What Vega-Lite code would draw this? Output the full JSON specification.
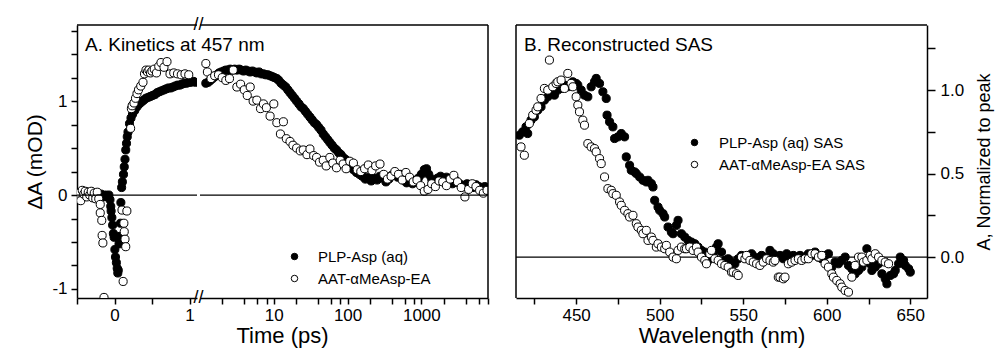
{
  "$schema": "https://vega.github.io/schema/vega-lite/v6.json",
  "padding": {"left": 24, "top": 16, "right": 5, "bottom": 5},
  "background": "white",
  "config": {
    "view": {"stroke": null},
    "font": "Liberation Sans",
    "axis": {"grid": false, "domainColor": "black", "domainWidth": 1.5, "tickColor": "black", "tickWidth": 1.5, "tickSize": 6, "labelColor": "black", "titleColor": "black", "labelFont": "Liberation Sans", "titleFont": "Liberation Sans", "labelFontSize": 17, "titleFontSize": 21, "titleFontWeight": "normal", "labelFlush": false, "labelOverlap": false},
    "legend": {"labelFont": "Liberation Sans", "labelColor": "black", "labelFontSize": 15}
  },
  "datasets": {
    "kin": [
      {"t":-0.48,"v":0.00,"s":"PLP-Asp (aq)"},{"t":-0.45,"v":0.03,"s":"PLP-Asp (aq)"},{"t":-0.42,"v":0.02,"s":"PLP-Asp (aq)"},{"t":-0.39,"v":-0.01,"s":"PLP-Asp (aq)"},{"t":-0.36,"v":0.03,"s":"PLP-Asp (aq)"},{"t":-0.33,"v":0.00,"s":"PLP-Asp (aq)"},{"t":-0.30,"v":-0.02,"s":"PLP-Asp (aq)"},{"t":-0.27,"v":0.02,"s":"PLP-Asp (aq)"},{"t":-0.24,"v":0.00,"s":"PLP-Asp (aq)"},{"t":-0.21,"v":-0.03,"s":"PLP-Asp (aq)"},{"t":-0.18,"v":0.01,"s":"PLP-Asp (aq)"},{"t":-0.15,"v":-0.02,"s":"PLP-Asp (aq)"},{"t":-0.12,"v":0.00,"s":"PLP-Asp (aq)"},{"t":-0.09,"v":-0.02,"s":"PLP-Asp (aq)"},{"t":-0.075,"v":0.00,"s":"PLP-Asp (aq)"},{"t":-0.06,"v":-0.05,"s":"PLP-Asp (aq)"},{"t":-0.05,"v":-0.12,"s":"PLP-Asp (aq)"},{"t":-0.045,"v":-0.17,"s":"PLP-Asp (aq)"},{"t":-0.035,"v":-0.24,"s":"PLP-Asp (aq)"},{"t":-0.025,"v":-0.32,"s":"PLP-Asp (aq)"},{"t":-0.015,"v":-0.41,"s":"PLP-Asp (aq)"},{"t":-0.005,"v":-0.45,"s":"PLP-Asp (aq)"},{"t":0.005,"v":-0.58,"s":"PLP-Asp (aq)"},{"t":0.013,"v":-0.66,"s":"PLP-Asp (aq)"},{"t":0.025,"v":-0.72,"s":"PLP-Asp (aq)"},{"t":0.036,"v":-0.78,"s":"PLP-Asp (aq)"},{"t":0.044,"v":-0.83,"s":"PLP-Asp (aq)"},{"t":0.05,"v":-0.80,"s":"PLP-Asp (aq)"},{"t":0.06,"v":-0.52,"s":"PLP-Asp (aq)"},{"t":0.07,"v":-0.44,"s":"PLP-Asp (aq)"},{"t":0.08,"v":-0.30,"s":"PLP-Asp (aq)"},{"t":0.085,"v":-0.08,"s":"PLP-Asp (aq)"},{"t":0.095,"v":0.08,"s":"PLP-Asp (aq)"},{"t":0.105,"v":0.14,"s":"PLP-Asp (aq)"},{"t":0.12,"v":0.22,"s":"PLP-Asp (aq)"},{"t":0.13,"v":0.30,"s":"PLP-Asp (aq)"},{"t":0.14,"v":0.38,"s":"PLP-Asp (aq)"},{"t":0.15,"v":0.48,"s":"PLP-Asp (aq)"},{"t":0.16,"v":0.55,"s":"PLP-Asp (aq)"},{"t":0.17,"v":0.62,"s":"PLP-Asp (aq)"},{"t":0.18,"v":0.67,"s":"PLP-Asp (aq)"},{"t":0.20,"v":0.76,"s":"PLP-Asp (aq)"},{"t":0.22,"v":0.82,"s":"PLP-Asp (aq)"},{"t":0.24,"v":0.86,"s":"PLP-Asp (aq)"},{"t":0.27,"v":0.90,"s":"PLP-Asp (aq)"},{"t":0.30,"v":0.94,"s":"PLP-Asp (aq)"},{"t":0.33,"v":0.97,"s":"PLP-Asp (aq)"},{"t":0.36,"v":0.99,"s":"PLP-Asp (aq)"},{"t":0.39,"v":1.01,"s":"PLP-Asp (aq)"},{"t":0.42,"v":1.03,"s":"PLP-Asp (aq)"},{"t":0.45,"v":1.04,"s":"PLP-Asp (aq)"},{"t":0.48,"v":1.05,"s":"PLP-Asp (aq)"},{"t":0.51,"v":1.06,"s":"PLP-Asp (aq)"},{"t":0.54,"v":1.07,"s":"PLP-Asp (aq)"},{"t":0.57,"v":1.09,"s":"PLP-Asp (aq)"},{"t":0.60,"v":1.10,"s":"PLP-Asp (aq)"},{"t":0.63,"v":1.11,"s":"PLP-Asp (aq)"},{"t":0.66,"v":1.12,"s":"PLP-Asp (aq)"},{"t":0.69,"v":1.13,"s":"PLP-Asp (aq)"},{"t":0.72,"v":1.14,"s":"PLP-Asp (aq)"},{"t":0.75,"v":1.14,"s":"PLP-Asp (aq)"},{"t":0.78,"v":1.15,"s":"PLP-Asp (aq)"},{"t":0.81,"v":1.16,"s":"PLP-Asp (aq)"},{"t":0.84,"v":1.17,"s":"PLP-Asp (aq)"},{"t":0.87,"v":1.17,"s":"PLP-Asp (aq)"},{"t":0.90,"v":1.18,"s":"PLP-Asp (aq)"},{"t":0.93,"v":1.19,"s":"PLP-Asp (aq)"},{"t":0.96,"v":1.19,"s":"PLP-Asp (aq)"},{"t":0.99,"v":1.20,"s":"PLP-Asp (aq)"},{"t":1.02,"v":1.20,"s":"PLP-Asp (aq)"},{"t":1.05,"v":1.21,"s":"PLP-Asp (aq)"},{"t":1.08,"v":1.20,"s":"PLP-Asp (aq)"},
      {"t":1.20,"v":1.19,"s":"PLP-Asp (aq)"},{"t":1.29,"v":1.20,"s":"PLP-Asp (aq)"},{"t":1.38,"v":1.22,"s":"PLP-Asp (aq)"},{"t":1.48,"v":1.24,"s":"PLP-Asp (aq)"},{"t":1.58,"v":1.26,"s":"PLP-Asp (aq)"},{"t":1.70,"v":1.28,"s":"PLP-Asp (aq)"},{"t":1.82,"v":1.30,"s":"PLP-Asp (aq)"},{"t":1.95,"v":1.31,"s":"PLP-Asp (aq)"},{"t":2.09,"v":1.32,"s":"PLP-Asp (aq)"},{"t":2.24,"v":1.33,"s":"PLP-Asp (aq)"},{"t":2.40,"v":1.33,"s":"PLP-Asp (aq)"},{"t":2.57,"v":1.34,"s":"PLP-Asp (aq)"},{"t":2.75,"v":1.33,"s":"PLP-Asp (aq)"},{"t":2.95,"v":1.34,"s":"PLP-Asp (aq)"},{"t":3.16,"v":1.33,"s":"PLP-Asp (aq)"},{"t":3.39,"v":1.34,"s":"PLP-Asp (aq)"},{"t":3.63,"v":1.33,"s":"PLP-Asp (aq)"},{"t":3.89,"v":1.32,"s":"PLP-Asp (aq)"},{"t":4.17,"v":1.33,"s":"PLP-Asp (aq)"},{"t":4.47,"v":1.32,"s":"PLP-Asp (aq)"},{"t":4.79,"v":1.31,"s":"PLP-Asp (aq)"},{"t":5.13,"v":1.32,"s":"PLP-Asp (aq)"},{"t":5.50,"v":1.31,"s":"PLP-Asp (aq)"},{"t":5.89,"v":1.30,"s":"PLP-Asp (aq)"},{"t":6.31,"v":1.31,"s":"PLP-Asp (aq)"},{"t":6.76,"v":1.29,"s":"PLP-Asp (aq)"},{"t":7.24,"v":1.29,"s":"PLP-Asp (aq)"},{"t":7.76,"v":1.28,"s":"PLP-Asp (aq)"},{"t":8.32,"v":1.28,"s":"PLP-Asp (aq)"},{"t":8.91,"v":1.27,"s":"PLP-Asp (aq)"},{"t":9.55,"v":1.26,"s":"PLP-Asp (aq)"},{"t":10.2,"v":1.25,"s":"PLP-Asp (aq)"},{"t":11.0,"v":1.24,"s":"PLP-Asp (aq)"},{"t":11.7,"v":1.22,"s":"PLP-Asp (aq)"},{"t":12.6,"v":1.19,"s":"PLP-Asp (aq)"},{"t":13.5,"v":1.17,"s":"PLP-Asp (aq)"},{"t":14.5,"v":1.15,"s":"PLP-Asp (aq)"},{"t":15.5,"v":1.12,"s":"PLP-Asp (aq)"},{"t":16.6,"v":1.09,"s":"PLP-Asp (aq)"},{"t":17.8,"v":1.06,"s":"PLP-Asp (aq)"},{"t":19.1,"v":1.03,"s":"PLP-Asp (aq)"},{"t":20.4,"v":1.00,"s":"PLP-Asp (aq)"},{"t":21.9,"v":0.97,"s":"PLP-Asp (aq)"},{"t":23.4,"v":0.94,"s":"PLP-Asp (aq)"},{"t":25.1,"v":0.92,"s":"PLP-Asp (aq)"},{"t":26.9,"v":0.89,"s":"PLP-Asp (aq)"},{"t":28.8,"v":0.86,"s":"PLP-Asp (aq)"},{"t":30.9,"v":0.83,"s":"PLP-Asp (aq)"},{"t":33.1,"v":0.80,"s":"PLP-Asp (aq)"},{"t":35.5,"v":0.77,"s":"PLP-Asp (aq)"},{"t":38.0,"v":0.75,"s":"PLP-Asp (aq)"},{"t":40.7,"v":0.72,"s":"PLP-Asp (aq)"},{"t":43.7,"v":0.69,"s":"PLP-Asp (aq)"},{"t":46.8,"v":0.65,"s":"PLP-Asp (aq)"},{"t":50.1,"v":0.62,"s":"PLP-Asp (aq)"},{"t":53.7,"v":0.59,"s":"PLP-Asp (aq)"},{"t":57.5,"v":0.56,"s":"PLP-Asp (aq)"},{"t":61.7,"v":0.53,"s":"PLP-Asp (aq)"},{"t":66.1,"v":0.50,"s":"PLP-Asp (aq)"},{"t":70.8,"v":0.48,"s":"PLP-Asp (aq)"},{"t":75.9,"v":0.45,"s":"PLP-Asp (aq)"},{"t":81.3,"v":0.43,"s":"PLP-Asp (aq)"},{"t":87.1,"v":0.40,"s":"PLP-Asp (aq)"},{"t":93.3,"v":0.38,"s":"PLP-Asp (aq)"},{"t":100,"v":0.36,"s":"PLP-Asp (aq)"},{"t":110,"v":0.31,"s":"PLP-Asp (aq)"},{"t":120,"v":0.27,"s":"PLP-Asp (aq)"},{"t":132,"v":0.24,"s":"PLP-Asp (aq)"},{"t":145,"v":0.22,"s":"PLP-Asp (aq)"},{"t":158,"v":0.20,"s":"PLP-Asp (aq)"},{"t":174,"v":0.17,"s":"PLP-Asp (aq)"},{"t":191,"v":0.19,"s":"PLP-Asp (aq)"},{"t":209,"v":0.15,"s":"PLP-Asp (aq)"},{"t":229,"v":0.18,"s":"PLP-Asp (aq)"},{"t":251,"v":0.16,"s":"PLP-Asp (aq)"},{"t":275,"v":0.20,"s":"PLP-Asp (aq)"},{"t":302,"v":0.18,"s":"PLP-Asp (aq)"},{"t":331,"v":0.14,"s":"PLP-Asp (aq)"},{"t":363,"v":0.17,"s":"PLP-Asp (aq)"},{"t":398,"v":0.21,"s":"PLP-Asp (aq)"},{"t":437,"v":0.23,"s":"PLP-Asp (aq)"},{"t":479,"v":0.19,"s":"PLP-Asp (aq)"},{"t":525,"v":0.22,"s":"PLP-Asp (aq)"},{"t":575,"v":0.16,"s":"PLP-Asp (aq)"},{"t":631,"v":0.13,"s":"PLP-Asp (aq)"},{"t":692,"v":0.15,"s":"PLP-Asp (aq)"},{"t":759,"v":0.12,"s":"PLP-Asp (aq)"},{"t":832,"v":0.14,"s":"PLP-Asp (aq)"},{"t":912,"v":0.18,"s":"PLP-Asp (aq)"},{"t":1000,"v":0.22,"s":"PLP-Asp (aq)"},{"t":1096,"v":0.27,"s":"PLP-Asp (aq)"},{"t":1175,"v":0.28,"s":"PLP-Asp (aq)"},{"t":1259,"v":0.22,"s":"PLP-Asp (aq)"},{"t":1380,"v":0.17,"s":"PLP-Asp (aq)"},{"t":1514,"v":0.15,"s":"PLP-Asp (aq)"},{"t":1660,"v":0.18,"s":"PLP-Asp (aq)"},{"t":1820,"v":0.20,"s":"PLP-Asp (aq)"},{"t":1995,"v":0.17,"s":"PLP-Asp (aq)"},{"t":2188,"v":0.19,"s":"PLP-Asp (aq)"},{"t":2399,"v":0.15,"s":"PLP-Asp (aq)"},{"t":2630,"v":0.12,"s":"PLP-Asp (aq)"},{"t":2884,"v":0.16,"s":"PLP-Asp (aq)"},{"t":3162,"v":0.13,"s":"PLP-Asp (aq)"},{"t":3467,"v":0.11,"s":"PLP-Asp (aq)"},{"t":3802,"v":0.09,"s":"PLP-Asp (aq)"},{"t":4169,"v":0.12,"s":"PLP-Asp (aq)"},{"t":4571,"v":0.10,"s":"PLP-Asp (aq)"},{"t":5012,"v":0.08,"s":"PLP-Asp (aq)"},{"t":5495,"v":0.11,"s":"PLP-Asp (aq)"},{"t":6026,"v":0.09,"s":"PLP-Asp (aq)"},{"t":6607,"v":0.07,"s":"PLP-Asp (aq)"},{"t":7244,"v":0.09,"s":"PLP-Asp (aq)"},
      {"t":-0.49,"v":-0.03,"s":"AAT-αMeAsp-EA"},{"t":-0.47,"v":0.02,"s":"AAT-αMeAsp-EA"},{"t":-0.45,"v":-0.06,"s":"AAT-αMeAsp-EA"},{"t":-0.43,"v":0.05,"s":"AAT-αMeAsp-EA"},{"t":-0.41,"v":0.01,"s":"AAT-αMeAsp-EA"},{"t":-0.39,"v":0.04,"s":"AAT-αMeAsp-EA"},{"t":-0.37,"v":-0.02,"s":"AAT-αMeAsp-EA"},{"t":-0.35,"v":0.03,"s":"AAT-αMeAsp-EA"},{"t":-0.33,"v":0.00,"s":"AAT-αMeAsp-EA"},{"t":-0.31,"v":0.04,"s":"AAT-αMeAsp-EA"},{"t":-0.29,"v":-0.03,"s":"AAT-αMeAsp-EA"},{"t":-0.27,"v":0.02,"s":"AAT-αMeAsp-EA"},{"t":-0.25,"v":-0.04,"s":"AAT-αMeAsp-EA"},{"t":-0.23,"v":0.03,"s":"AAT-αMeAsp-EA"},{"t":-0.21,"v":-0.04,"s":"AAT-αMeAsp-EA"},{"t":-0.19,"v":-0.10,"s":"AAT-αMeAsp-EA"},{"t":-0.19,"v":-0.19,"s":"AAT-αMeAsp-EA"},{"t":-0.17,"v":-0.27,"s":"AAT-αMeAsp-EA"},{"t":-0.165,"v":-0.43,"s":"AAT-αMeAsp-EA"},{"t":-0.155,"v":-0.51,"s":"AAT-αMeAsp-EA"},{"t":-0.14,"v":-1.09,"s":"AAT-αMeAsp-EA"},{"t":0.10,"v":-0.16,"s":"AAT-αMeAsp-EA"},{"t":0.115,"v":-0.92,"s":"AAT-αMeAsp-EA"},{"t":0.125,"v":-0.30,"s":"AAT-αMeAsp-EA"},{"t":0.13,"v":-0.39,"s":"AAT-αMeAsp-EA"},{"t":0.14,"v":-0.47,"s":"AAT-αMeAsp-EA"},{"t":0.15,"v":-0.55,"s":"AAT-αMeAsp-EA"},{"t":0.165,"v":-0.17,"s":"AAT-αMeAsp-EA"},{"t":0.215,"v":0.71,"s":"AAT-αMeAsp-EA"},{"t":0.225,"v":0.92,"s":"AAT-αMeAsp-EA"},{"t":0.235,"v":0.95,"s":"AAT-αMeAsp-EA"},{"t":0.26,"v":0.98,"s":"AAT-αMeAsp-EA"},{"t":0.28,"v":1.03,"s":"AAT-αMeAsp-EA"},{"t":0.30,"v":1.08,"s":"AAT-αMeAsp-EA"},{"t":0.32,"v":1.12,"s":"AAT-αMeAsp-EA"},{"t":0.35,"v":1.16,"s":"AAT-αMeAsp-EA"},{"t":0.38,"v":1.20,"s":"AAT-αMeAsp-EA"},{"t":0.40,"v":1.29,"s":"AAT-αMeAsp-EA"},{"t":0.42,"v":1.33,"s":"AAT-αMeAsp-EA"},{"t":0.44,"v":1.31,"s":"AAT-αMeAsp-EA"},{"t":0.46,"v":1.33,"s":"AAT-αMeAsp-EA"},{"t":0.48,"v":1.30,"s":"AAT-αMeAsp-EA"},{"t":0.50,"v":1.32,"s":"AAT-αMeAsp-EA"},{"t":0.53,"v":1.34,"s":"AAT-αMeAsp-EA"},{"t":0.56,"v":1.30,"s":"AAT-αMeAsp-EA"},{"t":0.59,"v":1.37,"s":"AAT-αMeAsp-EA"},{"t":0.62,"v":1.41,"s":"AAT-αMeAsp-EA"},{"t":0.66,"v":1.36,"s":"AAT-αMeAsp-EA"},{"t":0.70,"v":1.42,"s":"AAT-αMeAsp-EA"},{"t":0.74,"v":1.29,"s":"AAT-αMeAsp-EA"},{"t":0.79,"v":1.30,"s":"AAT-αMeAsp-EA"},{"t":0.84,"v":1.29,"s":"AAT-αMeAsp-EA"},{"t":0.89,"v":1.28,"s":"AAT-αMeAsp-EA"},{"t":0.94,"v":1.29,"s":"AAT-αMeAsp-EA"},{"t":0.99,"v":1.28,"s":"AAT-αMeAsp-EA"},
      {"t":1.20,"v":1.40,"s":"AAT-αMeAsp-EA"},{"t":1.26,"v":1.31,"s":"AAT-αMeAsp-EA"},{"t":1.41,"v":1.24,"s":"AAT-αMeAsp-EA"},{"t":1.58,"v":1.27,"s":"AAT-αMeAsp-EA"},{"t":1.78,"v":1.28,"s":"AAT-αMeAsp-EA"},{"t":2.0,"v":1.25,"s":"AAT-αMeAsp-EA"},{"t":2.24,"v":1.22,"s":"AAT-αMeAsp-EA"},{"t":2.51,"v":1.24,"s":"AAT-αMeAsp-EA"},{"t":2.82,"v":1.33,"s":"AAT-αMeAsp-EA"},{"t":3.16,"v":1.15,"s":"AAT-αMeAsp-EA"},{"t":3.55,"v":1.18,"s":"AAT-αMeAsp-EA"},{"t":3.98,"v":1.12,"s":"AAT-αMeAsp-EA"},{"t":4.37,"v":1.06,"s":"AAT-αMeAsp-EA"},{"t":4.79,"v":1.15,"s":"AAT-αMeAsp-EA"},{"t":5.25,"v":1.00,"s":"AAT-αMeAsp-EA"},{"t":5.89,"v":1.01,"s":"AAT-αMeAsp-EA"},{"t":6.61,"v":0.92,"s":"AAT-αMeAsp-EA"},{"t":7.24,"v":0.97,"s":"AAT-αMeAsp-EA"},{"t":7.94,"v":0.93,"s":"AAT-αMeAsp-EA"},{"t":8.91,"v":0.84,"s":"AAT-αMeAsp-EA"},{"t":10,"v":0.97,"s":"AAT-αMeAsp-EA"},{"t":11.0,"v":0.77,"s":"AAT-αMeAsp-EA"},{"t":12.3,"v":0.65,"s":"AAT-αMeAsp-EA"},{"t":13.5,"v":0.78,"s":"AAT-αMeAsp-EA"},{"t":14.8,"v":0.60,"s":"AAT-αMeAsp-EA"},{"t":16.6,"v":0.57,"s":"AAT-αMeAsp-EA"},{"t":18.2,"v":0.53,"s":"AAT-αMeAsp-EA"},{"t":20.4,"v":0.50,"s":"AAT-αMeAsp-EA"},{"t":22.9,"v":0.47,"s":"AAT-αMeAsp-EA"},{"t":25.1,"v":0.48,"s":"AAT-αMeAsp-EA"},{"t":28.2,"v":0.43,"s":"AAT-αMeAsp-EA"},{"t":30.9,"v":0.49,"s":"AAT-αMeAsp-EA"},{"t":34.7,"v":0.42,"s":"AAT-αMeAsp-EA"},{"t":38.0,"v":0.40,"s":"AAT-αMeAsp-EA"},{"t":41.7,"v":0.35,"s":"AAT-αMeAsp-EA"},{"t":46.8,"v":0.37,"s":"AAT-αMeAsp-EA"},{"t":51.3,"v":0.31,"s":"AAT-αMeAsp-EA"},{"t":57.5,"v":0.40,"s":"AAT-αMeAsp-EA"},{"t":63.1,"v":0.34,"s":"AAT-αMeAsp-EA"},{"t":70.8,"v":0.29,"s":"AAT-αMeAsp-EA"},{"t":79.4,"v":0.37,"s":"AAT-αMeAsp-EA"},{"t":87.1,"v":0.33,"s":"AAT-αMeAsp-EA"},{"t":95.5,"v":0.28,"s":"AAT-αMeAsp-EA"},{"t":107,"v":0.36,"s":"AAT-αMeAsp-EA"},{"t":120,"v":0.34,"s":"AAT-αMeAsp-EA"},{"t":135,"v":0.27,"s":"AAT-αMeAsp-EA"},{"t":151,"v":0.25,"s":"AAT-αMeAsp-EA"},{"t":170,"v":0.28,"s":"AAT-αMeAsp-EA"},{"t":191,"v":0.32,"s":"AAT-αMeAsp-EA"},{"t":214,"v":0.26,"s":"AAT-αMeAsp-EA"},{"t":240,"v":0.31,"s":"AAT-αMeAsp-EA"},{"t":275,"v":0.33,"s":"AAT-αMeAsp-EA"},{"t":309,"v":0.22,"s":"AAT-αMeAsp-EA"},{"t":347,"v":0.17,"s":"AAT-αMeAsp-EA"},{"t":389,"v":0.20,"s":"AAT-αMeAsp-EA"},{"t":437,"v":0.25,"s":"AAT-αMeAsp-EA"},{"t":490,"v":0.22,"s":"AAT-αMeAsp-EA"},{"t":550,"v":0.16,"s":"AAT-αMeAsp-EA"},{"t":617,"v":0.24,"s":"AAT-αMeAsp-EA"},{"t":692,"v":0.19,"s":"AAT-αMeAsp-EA"},{"t":776,"v":0.14,"s":"AAT-αMeAsp-EA"},{"t":871,"v":0.16,"s":"AAT-αMeAsp-EA"},{"t":977,"v":0.10,"s":"AAT-αMeAsp-EA"},{"t":1096,"v":0.04,"s":"AAT-αMeAsp-EA"},{"t":1230,"v":0.06,"s":"AAT-αMeAsp-EA"},{"t":1380,"v":0.12,"s":"AAT-αMeAsp-EA"},{"t":1549,"v":0.09,"s":"AAT-αMeAsp-EA"},{"t":1738,"v":0.15,"s":"AAT-αMeAsp-EA"},{"t":1950,"v":0.14,"s":"AAT-αMeAsp-EA"},{"t":2188,"v":0.10,"s":"AAT-αMeAsp-EA"},{"t":2455,"v":0.17,"s":"AAT-αMeAsp-EA"},{"t":2754,"v":0.21,"s":"AAT-αMeAsp-EA"},{"t":3090,"v":0.14,"s":"AAT-αMeAsp-EA"},{"t":3467,"v":0.08,"s":"AAT-αMeAsp-EA"},{"t":3890,"v":-0.02,"s":"AAT-αMeAsp-EA"},{"t":4365,"v":0.06,"s":"AAT-αMeAsp-EA"},{"t":4898,"v":0.12,"s":"AAT-αMeAsp-EA"},{"t":5495,"v":0.09,"s":"AAT-αMeAsp-EA"},{"t":6166,"v":0.05,"s":"AAT-αMeAsp-EA"},{"t":6918,"v":0.02,"s":"AAT-αMeAsp-EA"},{"t":7762,"v":0.05,"s":"AAT-αMeAsp-EA"}
    ],
    "sas": [
      {"w":416,"a":0.73,"s":"PLP-Asp (aq) SAS"},{"w":418,"a":0.75,"s":"PLP-Asp (aq) SAS"},{"w":420,"a":0.78,"s":"PLP-Asp (aq) SAS"},{"w":421,"a":0.74,"s":"PLP-Asp (aq) SAS"},{"w":423,"a":0.82,"s":"PLP-Asp (aq) SAS"},{"w":425,"a":0.84,"s":"PLP-Asp (aq) SAS"},{"w":427,"a":0.88,"s":"PLP-Asp (aq) SAS"},{"w":429,"a":0.90,"s":"PLP-Asp (aq) SAS"},{"w":431,"a":0.94,"s":"PLP-Asp (aq) SAS"},{"w":433,"a":0.96,"s":"PLP-Asp (aq) SAS"},{"w":435,"a":0.98,"s":"PLP-Asp (aq) SAS"},{"w":437,"a":0.97,"s":"PLP-Asp (aq) SAS"},{"w":439,"a":1.00,"s":"PLP-Asp (aq) SAS"},{"w":441,"a":1.01,"s":"PLP-Asp (aq) SAS"},{"w":443,"a":1.03,"s":"PLP-Asp (aq) SAS"},{"w":445,"a":1.02,"s":"PLP-Asp (aq) SAS"},{"w":448,"a":1.05,"s":"PLP-Asp (aq) SAS"},{"w":450,"a":1.04,"s":"PLP-Asp (aq) SAS"},{"w":451,"a":1.03,"s":"PLP-Asp (aq) SAS"},{"w":453,"a":1.00,"s":"PLP-Asp (aq) SAS"},{"w":455,"a":0.97,"s":"PLP-Asp (aq) SAS"},{"w":457,"a":0.96,"s":"PLP-Asp (aq) SAS"},{"w":459,"a":1.02,"s":"PLP-Asp (aq) SAS"},{"w":461,"a":1.05,"s":"PLP-Asp (aq) SAS"},{"w":462,"a":1.07,"s":"PLP-Asp (aq) SAS"},{"w":464,"a":1.04,"s":"PLP-Asp (aq) SAS"},{"w":466,"a":0.99,"s":"PLP-Asp (aq) SAS"},{"w":468,"a":0.95,"s":"PLP-Asp (aq) SAS"},{"w":468.5,"a":0.85,"s":"PLP-Asp (aq) SAS"},{"w":470,"a":0.81,"s":"PLP-Asp (aq) SAS"},{"w":472,"a":0.78,"s":"PLP-Asp (aq) SAS"},{"w":473,"a":0.71,"s":"PLP-Asp (aq) SAS"},{"w":475,"a":0.72,"s":"PLP-Asp (aq) SAS"},{"w":477,"a":0.74,"s":"PLP-Asp (aq) SAS"},{"w":479,"a":0.72,"s":"PLP-Asp (aq) SAS"},{"w":480,"a":0.60,"s":"PLP-Asp (aq) SAS"},{"w":482,"a":0.55,"s":"PLP-Asp (aq) SAS"},{"w":483,"a":0.52,"s":"PLP-Asp (aq) SAS"},{"w":485,"a":0.51,"s":"PLP-Asp (aq) SAS"},{"w":486,"a":0.50,"s":"PLP-Asp (aq) SAS"},{"w":488,"a":0.48,"s":"PLP-Asp (aq) SAS"},{"w":490,"a":0.46,"s":"PLP-Asp (aq) SAS"},{"w":492,"a":0.45,"s":"PLP-Asp (aq) SAS"},{"w":493,"a":0.46,"s":"PLP-Asp (aq) SAS"},{"w":495,"a":0.44,"s":"PLP-Asp (aq) SAS"},{"w":496,"a":0.42,"s":"PLP-Asp (aq) SAS"},{"w":497,"a":0.34,"s":"PLP-Asp (aq) SAS"},{"w":499,"a":0.30,"s":"PLP-Asp (aq) SAS"},{"w":500,"a":0.28,"s":"PLP-Asp (aq) SAS"},{"w":502,"a":0.26,"s":"PLP-Asp (aq) SAS"},{"w":503,"a":0.24,"s":"PLP-Asp (aq) SAS"},{"w":505,"a":0.18,"s":"PLP-Asp (aq) SAS"},{"w":507,"a":0.15,"s":"PLP-Asp (aq) SAS"},{"w":508,"a":0.14,"s":"PLP-Asp (aq) SAS"},{"w":510,"a":0.19,"s":"PLP-Asp (aq) SAS"},{"w":511,"a":0.22,"s":"PLP-Asp (aq) SAS"},{"w":513,"a":0.14,"s":"PLP-Asp (aq) SAS"},{"w":515,"a":0.12,"s":"PLP-Asp (aq) SAS"},{"w":517,"a":0.10,"s":"PLP-Asp (aq) SAS"},{"w":519,"a":0.09,"s":"PLP-Asp (aq) SAS"},{"w":521,"a":0.08,"s":"PLP-Asp (aq) SAS"},{"w":523,"a":0.06,"s":"PLP-Asp (aq) SAS"},{"w":525,"a":0.04,"s":"PLP-Asp (aq) SAS"},{"w":527,"a":0.03,"s":"PLP-Asp (aq) SAS"},{"w":529,"a":-0.02,"s":"PLP-Asp (aq) SAS"},{"w":531,"a":0.01,"s":"PLP-Asp (aq) SAS"},{"w":532,"a":0.02,"s":"PLP-Asp (aq) SAS"},{"w":534,"a":0.06,"s":"PLP-Asp (aq) SAS"},{"w":535,"a":0.08,"s":"PLP-Asp (aq) SAS"},{"w":537,"a":0.03,"s":"PLP-Asp (aq) SAS"},{"w":539,"a":-0.02,"s":"PLP-Asp (aq) SAS"},{"w":541,"a":-0.01,"s":"PLP-Asp (aq) SAS"},{"w":543,"a":-0.03,"s":"PLP-Asp (aq) SAS"},{"w":545,"a":-0.04,"s":"PLP-Asp (aq) SAS"},{"w":547,"a":-0.01,"s":"PLP-Asp (aq) SAS"},{"w":549,"a":0.01,"s":"PLP-Asp (aq) SAS"},{"w":551,"a":0.00,"s":"PLP-Asp (aq) SAS"},{"w":553,"a":0.01,"s":"PLP-Asp (aq) SAS"},{"w":555,"a":0.02,"s":"PLP-Asp (aq) SAS"},{"w":557,"a":0.00,"s":"PLP-Asp (aq) SAS"},{"w":559,"a":-0.01,"s":"PLP-Asp (aq) SAS"},{"w":561,"a":0.01,"s":"PLP-Asp (aq) SAS"},{"w":563,"a":0.00,"s":"PLP-Asp (aq) SAS"},{"w":566,"a":0.04,"s":"PLP-Asp (aq) SAS"},{"w":568,"a":0.02,"s":"PLP-Asp (aq) SAS"},{"w":570,"a":0.00,"s":"PLP-Asp (aq) SAS"},{"w":572,"a":0.01,"s":"PLP-Asp (aq) SAS"},{"w":574,"a":-0.01,"s":"PLP-Asp (aq) SAS"},{"w":576,"a":0.02,"s":"PLP-Asp (aq) SAS"},{"w":578,"a":0.00,"s":"PLP-Asp (aq) SAS"},{"w":580,"a":0.01,"s":"PLP-Asp (aq) SAS"},{"w":582,"a":-0.01,"s":"PLP-Asp (aq) SAS"},{"w":584,"a":0.01,"s":"PLP-Asp (aq) SAS"},{"w":586,"a":0.00,"s":"PLP-Asp (aq) SAS"},{"w":589,"a":0.02,"s":"PLP-Asp (aq) SAS"},{"w":591,"a":0.01,"s":"PLP-Asp (aq) SAS"},{"w":593,"a":0.03,"s":"PLP-Asp (aq) SAS"},{"w":595,"a":0.00,"s":"PLP-Asp (aq) SAS"},{"w":597,"a":-0.01,"s":"PLP-Asp (aq) SAS"},{"w":599,"a":0.01,"s":"PLP-Asp (aq) SAS"},{"w":601,"a":0.02,"s":"PLP-Asp (aq) SAS"},{"w":603,"a":-0.06,"s":"PLP-Asp (aq) SAS"},{"w":605,"a":-0.03,"s":"PLP-Asp (aq) SAS"},{"w":607,"a":-0.04,"s":"PLP-Asp (aq) SAS"},{"w":609,"a":-0.02,"s":"PLP-Asp (aq) SAS"},{"w":611,"a":0.00,"s":"PLP-Asp (aq) SAS"},{"w":613,"a":-0.05,"s":"PLP-Asp (aq) SAS"},{"w":615,"a":-0.07,"s":"PLP-Asp (aq) SAS"},{"w":617,"a":-0.10,"s":"PLP-Asp (aq) SAS"},{"w":619,"a":-0.08,"s":"PLP-Asp (aq) SAS"},{"w":621,"a":-0.06,"s":"PLP-Asp (aq) SAS"},{"w":623,"a":-0.03,"s":"PLP-Asp (aq) SAS"},{"w":624,"a":0.05,"s":"PLP-Asp (aq) SAS"},{"w":626,"a":-0.04,"s":"PLP-Asp (aq) SAS"},{"w":627,"a":-0.08,"s":"PLP-Asp (aq) SAS"},{"w":629,"a":-0.06,"s":"PLP-Asp (aq) SAS"},{"w":631,"a":-0.04,"s":"PLP-Asp (aq) SAS"},{"w":633,"a":-0.10,"s":"PLP-Asp (aq) SAS"},{"w":635,"a":-0.13,"s":"PLP-Asp (aq) SAS"},{"w":636,"a":-0.16,"s":"PLP-Asp (aq) SAS"},{"w":638,"a":-0.11,"s":"PLP-Asp (aq) SAS"},{"w":640,"a":-0.10,"s":"PLP-Asp (aq) SAS"},{"w":641,"a":-0.08,"s":"PLP-Asp (aq) SAS"},{"w":643,"a":-0.04,"s":"PLP-Asp (aq) SAS"},{"w":644,"a":0.00,"s":"PLP-Asp (aq) SAS"},{"w":646,"a":-0.02,"s":"PLP-Asp (aq) SAS"},{"w":647,"a":-0.05,"s":"PLP-Asp (aq) SAS"},{"w":649,"a":-0.07,"s":"PLP-Asp (aq) SAS"},{"w":650,"a":-0.09,"s":"PLP-Asp (aq) SAS"},
      {"w":417,"a":0.66,"s":"AAT-αMeAsp-EA SAS"},{"w":419,"a":0.61,"s":"AAT-αMeAsp-EA SAS"},{"w":422,"a":0.80,"s":"AAT-αMeAsp-EA SAS"},{"w":424,"a":0.85,"s":"AAT-αMeAsp-EA SAS"},{"w":426,"a":0.88,"s":"AAT-αMeAsp-EA SAS"},{"w":427,"a":0.90,"s":"AAT-αMeAsp-EA SAS"},{"w":429,"a":0.95,"s":"AAT-αMeAsp-EA SAS"},{"w":431,"a":1.01,"s":"AAT-αMeAsp-EA SAS"},{"w":433,"a":1.00,"s":"AAT-αMeAsp-EA SAS"},{"w":434,"a":1.18,"s":"AAT-αMeAsp-EA SAS"},{"w":436,"a":1.02,"s":"AAT-αMeAsp-EA SAS"},{"w":438,"a":1.04,"s":"AAT-αMeAsp-EA SAS"},{"w":439,"a":1.05,"s":"AAT-αMeAsp-EA SAS"},{"w":441,"a":1.06,"s":"AAT-αMeAsp-EA SAS"},{"w":443,"a":1.01,"s":"AAT-αMeAsp-EA SAS"},{"w":445,"a":1.10,"s":"AAT-αMeAsp-EA SAS"},{"w":447,"a":1.04,"s":"AAT-αMeAsp-EA SAS"},{"w":448,"a":1.02,"s":"AAT-αMeAsp-EA SAS"},{"w":450,"a":0.96,"s":"AAT-αMeAsp-EA SAS"},{"w":451,"a":0.91,"s":"AAT-αMeAsp-EA SAS"},{"w":452,"a":0.87,"s":"AAT-αMeAsp-EA SAS"},{"w":454,"a":0.82,"s":"AAT-αMeAsp-EA SAS"},{"w":455,"a":0.79,"s":"AAT-αMeAsp-EA SAS"},{"w":457,"a":0.68,"s":"AAT-αMeAsp-EA SAS"},{"w":459,"a":0.66,"s":"AAT-αMeAsp-EA SAS"},{"w":461,"a":0.65,"s":"AAT-αMeAsp-EA SAS"},{"w":462,"a":0.63,"s":"AAT-αMeAsp-EA SAS"},{"w":464,"a":0.59,"s":"AAT-αMeAsp-EA SAS"},{"w":465,"a":0.56,"s":"AAT-αMeAsp-EA SAS"},{"w":467,"a":0.48,"s":"AAT-αMeAsp-EA SAS"},{"w":469,"a":0.41,"s":"AAT-αMeAsp-EA SAS"},{"w":471,"a":0.40,"s":"AAT-αMeAsp-EA SAS"},{"w":472,"a":0.38,"s":"AAT-αMeAsp-EA SAS"},{"w":474,"a":0.37,"s":"AAT-αMeAsp-EA SAS"},{"w":476,"a":0.33,"s":"AAT-αMeAsp-EA SAS"},{"w":477,"a":0.31,"s":"AAT-αMeAsp-EA SAS"},{"w":479,"a":0.28,"s":"AAT-αMeAsp-EA SAS"},{"w":481,"a":0.26,"s":"AAT-αMeAsp-EA SAS"},{"w":482,"a":0.24,"s":"AAT-αMeAsp-EA SAS"},{"w":484,"a":0.25,"s":"AAT-αMeAsp-EA SAS"},{"w":486,"a":0.20,"s":"AAT-αMeAsp-EA SAS"},{"w":487,"a":0.18,"s":"AAT-αMeAsp-EA SAS"},{"w":489,"a":0.16,"s":"AAT-αMeAsp-EA SAS"},{"w":490,"a":0.14,"s":"AAT-αMeAsp-EA SAS"},{"w":492,"a":0.16,"s":"AAT-αMeAsp-EA SAS"},{"w":493,"a":0.10,"s":"AAT-αMeAsp-EA SAS"},{"w":495,"a":0.12,"s":"AAT-αMeAsp-EA SAS"},{"w":496,"a":0.10,"s":"AAT-αMeAsp-EA SAS"},{"w":498,"a":0.06,"s":"AAT-αMeAsp-EA SAS"},{"w":499,"a":0.08,"s":"AAT-αMeAsp-EA SAS"},{"w":501,"a":0.06,"s":"AAT-αMeAsp-EA SAS"},{"w":503,"a":0.05,"s":"AAT-αMeAsp-EA SAS"},{"w":504,"a":0.07,"s":"AAT-αMeAsp-EA SAS"},{"w":506,"a":0.03,"s":"AAT-αMeAsp-EA SAS"},{"w":508,"a":0.00,"s":"AAT-αMeAsp-EA SAS"},{"w":510,"a":-0.01,"s":"AAT-αMeAsp-EA SAS"},{"w":511,"a":0.04,"s":"AAT-αMeAsp-EA SAS"},{"w":513,"a":0.06,"s":"AAT-αMeAsp-EA SAS"},{"w":515,"a":0.05,"s":"AAT-αMeAsp-EA SAS"},{"w":516,"a":0.05,"s":"AAT-αMeAsp-EA SAS"},{"w":518,"a":0.06,"s":"AAT-αMeAsp-EA SAS"},{"w":520,"a":0.04,"s":"AAT-αMeAsp-EA SAS"},{"w":522,"a":0.06,"s":"AAT-αMeAsp-EA SAS"},{"w":523,"a":0.03,"s":"AAT-αMeAsp-EA SAS"},{"w":525,"a":0.00,"s":"AAT-αMeAsp-EA SAS"},{"w":527,"a":-0.02,"s":"AAT-αMeAsp-EA SAS"},{"w":528,"a":-0.04,"s":"AAT-αMeAsp-EA SAS"},{"w":530,"a":0.02,"s":"AAT-αMeAsp-EA SAS"},{"w":531,"a":0.04,"s":"AAT-αMeAsp-EA SAS"},{"w":533,"a":-0.01,"s":"AAT-αMeAsp-EA SAS"},{"w":535,"a":-0.02,"s":"AAT-αMeAsp-EA SAS"},{"w":537,"a":-0.04,"s":"AAT-αMeAsp-EA SAS"},{"w":539,"a":-0.05,"s":"AAT-αMeAsp-EA SAS"},{"w":541,"a":-0.06,"s":"AAT-αMeAsp-EA SAS"},{"w":543,"a":-0.09,"s":"AAT-αMeAsp-EA SAS"},{"w":544,"a":-0.09,"s":"AAT-αMeAsp-EA SAS"},{"w":546,"a":-0.10,"s":"AAT-αMeAsp-EA SAS"},{"w":547,"a":-0.11,"s":"AAT-αMeAsp-EA SAS"},{"w":549,"a":0.00,"s":"AAT-αMeAsp-EA SAS"},{"w":551,"a":-0.01,"s":"AAT-αMeAsp-EA SAS"},{"w":552,"a":0.01,"s":"AAT-αMeAsp-EA SAS"},{"w":554,"a":-0.02,"s":"AAT-αMeAsp-EA SAS"},{"w":556,"a":-0.03,"s":"AAT-αMeAsp-EA SAS"},{"w":558,"a":-0.04,"s":"AAT-αMeAsp-EA SAS"},{"w":560,"a":-0.05,"s":"AAT-αMeAsp-EA SAS"},{"w":562,"a":-0.03,"s":"AAT-αMeAsp-EA SAS"},{"w":564,"a":-0.01,"s":"AAT-αMeAsp-EA SAS"},{"w":566,"a":-0.02,"s":"AAT-αMeAsp-EA SAS"},{"w":568,"a":-0.03,"s":"AAT-αMeAsp-EA SAS"},{"w":569,"a":-0.02,"s":"AAT-αMeAsp-EA SAS"},{"w":571,"a":-0.12,"s":"AAT-αMeAsp-EA SAS"},{"w":572,"a":-0.12,"s":"AAT-αMeAsp-EA SAS"},{"w":574,"a":-0.13,"s":"AAT-αMeAsp-EA SAS"},{"w":575,"a":-0.12,"s":"AAT-αMeAsp-EA SAS"},{"w":577,"a":-0.04,"s":"AAT-αMeAsp-EA SAS"},{"w":579,"a":-0.03,"s":"AAT-αMeAsp-EA SAS"},{"w":581,"a":-0.02,"s":"AAT-αMeAsp-EA SAS"},{"w":583,"a":-0.01,"s":"AAT-αMeAsp-EA SAS"},{"w":585,"a":-0.02,"s":"AAT-αMeAsp-EA SAS"},{"w":587,"a":-0.01,"s":"AAT-αMeAsp-EA SAS"},{"w":589,"a":-0.01,"s":"AAT-αMeAsp-EA SAS"},{"w":591,"a":0.02,"s":"AAT-αMeAsp-EA SAS"},{"w":593,"a":0.02,"s":"AAT-αMeAsp-EA SAS"},{"w":595,"a":0.00,"s":"AAT-αMeAsp-EA SAS"},{"w":597,"a":0.01,"s":"AAT-αMeAsp-EA SAS"},{"w":599,"a":-0.04,"s":"AAT-αMeAsp-EA SAS"},{"w":601,"a":-0.06,"s":"AAT-αMeAsp-EA SAS"},{"w":603,"a":-0.10,"s":"AAT-αMeAsp-EA SAS"},{"w":604,"a":-0.12,"s":"AAT-αMeAsp-EA SAS"},{"w":606,"a":-0.14,"s":"AAT-αMeAsp-EA SAS"},{"w":608,"a":-0.16,"s":"AAT-αMeAsp-EA SAS"},{"w":609,"a":-0.18,"s":"AAT-αMeAsp-EA SAS"},{"w":611,"a":-0.20,"s":"AAT-αMeAsp-EA SAS"},{"w":613,"a":-0.21,"s":"AAT-αMeAsp-EA SAS"},{"w":615,"a":-0.12,"s":"AAT-αMeAsp-EA SAS"},{"w":617,"a":-0.05,"s":"AAT-αMeAsp-EA SAS"},{"w":619,"a":0.00,"s":"AAT-αMeAsp-EA SAS"},{"w":621,"a":0.00,"s":"AAT-αMeAsp-EA SAS"},{"w":622,"a":-0.03,"s":"AAT-αMeAsp-EA SAS"},{"w":624,"a":-0.02,"s":"AAT-αMeAsp-EA SAS"},{"w":626,"a":0.01,"s":"AAT-αMeAsp-EA SAS"},{"w":627,"a":-0.01,"s":"AAT-αMeAsp-EA SAS"},{"w":629,"a":0.02,"s":"AAT-αMeAsp-EA SAS"},{"w":631,"a":0.00,"s":"AAT-αMeAsp-EA SAS"},{"w":633,"a":-0.02,"s":"AAT-αMeAsp-EA SAS"},{"w":635,"a":-0.03,"s":"AAT-αMeAsp-EA SAS"},{"w":637,"a":-0.04,"s":"AAT-αMeAsp-EA SAS"}
    ]
  },
  "hconcat": [
    {
      "hconcat": [
        {
          "width": 120,
          "height": 273,
          "layer": [
            {
              "data": {"name": "kin"},
              "transform": [{"filter": "datum.t <= 1.1 && datum.s == 'PLP-Asp (aq)'"}],
              "mark": {"type": "point", "filled": true, "fill": "black", "size": 66, "stroke": "black", "strokeWidth": 1, "opacity": 1, "clip": true},
              "encoding": {
                "x": {"field": "t", "type": "quantitative", "scale": {"domain": [-0.5, 1.1], "nice": false, "zero": false},
                  "axis": {"values": [-0.5, 0, 0.5, 1], "tickCount": 50, "labelExpr": "abs(datum.value) < 0.01 ? '0' : abs(datum.value - 1) < 0.01 ? '1' : ''", "labelOverlap": false, "labelPadding": 3, "title": null}},
                "y": {"field": "v", "type": "quantitative", "scale": {"domain": [-1.096, 1.81], "nice": false, "zero": false},
                  "axis": {"values": [-1, -0.75, -0.5, -0.25, 0, 0.25, 0.5, 0.75, 1, 1.25, 1.5, 1.75], "tickCount": 50, "labelExpr": "datum.value == 0 ? '0' : datum.value == 1 ? '1' : datum.value == -1 ? '-1' : ''", "labelOverlap": false, "labelPadding": 4, "title": "ΔA (mOD)", "titlePadding": 6}}
              }
            },
            {
              "data": {"name": "kin"},
              "transform": [{"filter": "datum.t <= 1.1 && datum.s != 'PLP-Asp (aq)'"}],
              "mark": {"type": "point", "filled": true, "fill": "white", "size": 66, "stroke": "black", "strokeWidth": 1, "opacity": 1, "clip": true},
              "encoding": {
                "x": {"field": "t", "type": "quantitative"},
                "y": {"field": "v", "type": "quantitative"}
              }
            },
            {"data": {"values": [{}]}, "mark": {"type": "rule", "color": "black", "strokeWidth": 1.5}, "encoding": {"y": {"datum": 1.81}}},
            {"data": {"values": [{}]}, "mark": {"type": "rule", "color": "black", "strokeWidth": 1.3}, "encoding": {"y": {"datum": 0}}},
            {"data": {"values": [{}]}, "mark": {"type": "text", "text": "A. Kinetics at 457 nm", "align": "left", "baseline": "middle", "dx": 8, "dy": 20, "fontSize": 19, "color": "black"}, "encoding": {"x": {"datum": -0.5}, "y": {"datum": 1.81}}}
          ]
        },
        {
          "width": 288,
          "height": 273,
          "layer": [
            {
              "data": {"name": "kin"},
              "transform": [{"filter": "datum.t > 1.1"}],
              "mark": {"type": "point", "filled": true, "size": 66, "stroke": "black", "strokeWidth": 1, "opacity": 1, "clip": true},
              "encoding": {
                "x": {"field": "t", "type": "quantitative", "scale": {"type": "log", "domain": [1, 8000], "nice": false},
                  "axis": {"values": [2, 4, 6, 8, 10, 20, 40, 60, 80, 100, 200, 400, 600, 800, 1000, 2000, 4000, 6000, 8000], "tickCount": 50, "format": "d", "labelExpr": "datum.value == 10 || datum.value == 100 || datum.value == 1000 ? datum.label : ''", "labelOverlap": false, "labelPadding": 3, "title": "Time (ps)", "titleX": 82, "titlePadding": 2, "titleFontSize": 22}},
                "y": {"field": "v", "type": "quantitative", "scale": {"domain": [-1.096, 1.81], "nice": false, "zero": false}, "axis": null},
                "fill": {"field": "s", "type": "nominal", "scale": {"domain": ["PLP-Asp (aq)", "AAT-αMeAsp-EA"], "range": ["black", "white"]},
                  "legend": {"orient": "none", "legendX": 210, "legendY": 224, "title": null, "symbolType": "circle", "symbolSize": 42, "symbolStrokeColor": "black", "symbolStrokeWidth": 1, "labelFontSize": 15, "labelOffset": 16, "rowPadding": 6, "padding": 0}}
              }
            },
            {"data": {"values": [{}]}, "mark": {"type": "rule", "color": "black", "strokeWidth": 1.3}, "encoding": {"y": {"datum": 0, "axis": null}}},
            {"data": {"values": [{}]}, "mark": {"type": "rule", "color": "black", "strokeWidth": 1.5}, "encoding": {"y": {"datum": 1.81, "axis": null}}},
            {"data": {"values": [{}]}, "mark": {"type": "rule", "color": "black", "strokeWidth": 1.5}, "encoding": {"x": {"datum": 8000}}},
            {"data": {"values": [{}]}, "mark": {"type": "text", "text": "//", "align": "center", "baseline": "middle", "dx": -1.5, "fontSize": 18, "color": "black"}, "encoding": {"x": {"datum": 1}, "y": {"datum": 1.81, "axis": null}}},
            {"data": {"values": [{}]}, "mark": {"type": "text", "text": "//", "align": "center", "baseline": "middle", "dx": -1.5, "fontSize": 18, "color": "black"}, "encoding": {"x": {"datum": 1}, "y": {"datum": -1.096, "axis": null}}}
          ]
        }
      ],
      "spacing": 3,
      "bounds": "flush"
    },
    {
      "width": 411,
      "height": 273,
      "layer": [
        {"data": {"values": [{}]}, "mark": {"type": "rule", "color": "black", "strokeWidth": 1.3}, "encoding": {"y": {"datum": 0}}},
        {
          "data": {"name": "sas"},
          "mark": {"type": "point", "filled": true, "size": 66, "stroke": "black", "strokeWidth": 1, "opacity": 1, "clip": true},
          "encoding": {
            "x": {"field": "w", "type": "quantitative", "scale": {"domain": [414, 660], "nice": false, "zero": false},
              "axis": {"values": [425, 450, 475, 500, 525, 550, 575, 600, 625, 650], "tickCount": 50, "labelExpr": "datum.value % 50 == 0 ? datum.value + '' : ''", "labelOverlap": false, "labelPadding": 3, "title": "Wavelength (nm)", "titlePadding": 2, "titleFontSize": 22}},
            "y": {"field": "a", "type": "quantitative", "scale": {"domain": [-0.245, 1.39], "nice": false, "zero": false},
              "axis": {"orient": "right", "values": [0, 0.25, 0.5, 0.75, 1, 1.25], "tickCount": 50, "labelExpr": "datum.value == 0 ? '0.0' : datum.value == 0.5 ? '0.5' : datum.value == 1 ? '1.0' : ''", "labelOverlap": false, "tickSize": 8, "labelPadding": 5, "title": "A, Normalized to peak", "titleAngle": 270, "titleBaseline": "top", "titleFontSize": 18, "titlePadding": 12}},
            "fill": {"field": "s", "type": "nominal", "scale": {"domain": ["PLP-Asp (aq) SAS", "AAT-αMeAsp-EA SAS"], "range": ["black", "white"]},
              "legend": {"orient": "none", "legendX": 171, "legendY": 110, "title": null, "symbolType": "circle", "symbolSize": 42, "symbolStrokeColor": "black", "symbolStrokeWidth": 1, "labelFontSize": 15, "labelOffset": 17, "rowPadding": 6, "padding": 0}}
          }
        },
        {"data": {"values": [{}]}, "mark": {"type": "rule", "color": "black", "strokeWidth": 1.5}, "encoding": {"y": {"datum": 1.39}}},
        {"data": {"values": [{}]}, "mark": {"type": "rule", "color": "black", "strokeWidth": 1.5}, "encoding": {"x": {"datum": 414}}},
        {"data": {"values": [{}]}, "mark": {"type": "text", "text": "B. Reconstructed SAS", "align": "left", "baseline": "middle", "dx": 8, "dy": 20, "fontSize": 19, "color": "black"}, "encoding": {"x": {"datum": 414}, "y": {"datum": 1.39}}}
      ]
    }
  ],
  "spacing": 26,
  "resolve": {"scale": {"fill": "independent"}, "legend": {"fill": "independent"}}
}
